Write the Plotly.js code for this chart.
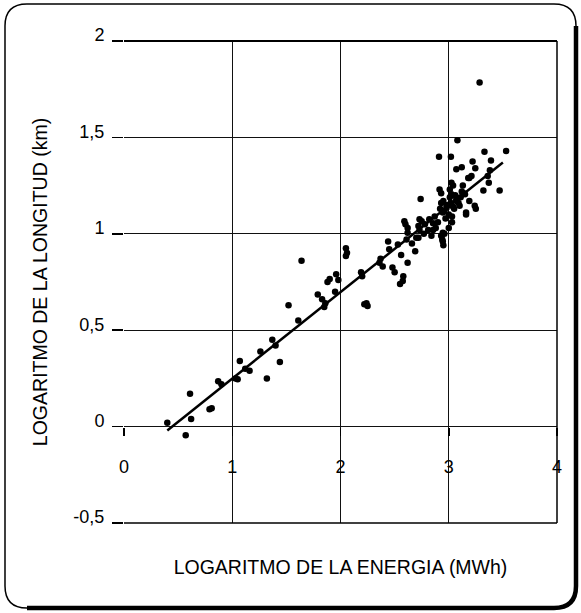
<!DOCTYPE html>
<html>
<head>
<meta charset="utf-8">
<script src="https://cdn.plot.ly/plotly-3.0.1.min.js"></script>
<style>html,body{margin:0;padding:0;background:#fff;}#chart{width:581px;height:613px;}</style>
</head>
<body>
<div id="chart"></div>
<script>
// Scatter data: log energy (MWh) vs log length (km)
const logEnergia = [
0.40,0.57,0.62,0.61,0.79,0.81,0.87,0.90,1.03,1.05,1.07,1.12,1.16,1.32,1.26,1.37,1.40,1.44,1.52,1.61,
1.64,1.79,1.83,1.85,1.86,1.90,1.96,1.98,1.95,1.88,2.05,2.05,2.06,2.19,2.20,2.22,2.25,2.24,2.36,2.39,
2.37,2.44,2.45,2.48,2.50,2.53,2.56,2.58,2.575,2.55,2.61,2.62,2.59,2.60,2.62,2.62,2.69,2.72,2.73,2.75,
2.74,2.73,2.72,2.82,2.855,2.87,2.81,2.84,2.855,2.93,2.945,2.945,2.96,2.94,2.915,2.93,2.945,2.98,3.01,3.025,
3.025,3.07,3.12,3.18,3.21,3.10,3.16,3.07,3.08,2.91,3.02,3.33,3.53,3.39,3.12,3.22,3.245,3.19,3.36,3.37,
3.38,3.32,3.47,3.25,3.16,3.01,3.04,3.13,3.15,2.93,2.95,2.98,3.19,3.07,3.24,3.03,3.285,2.97,3.00,2.99,
3.05,3.02,2.96,3.06,3.09,2.90,2.88,3.00,3.03,2.78,2.77,2.66,2.70,2.95,3.11,3.14,3.04,2.92
];
const logLongitud = [
0.02,-0.045,0.04,0.17,0.09,0.095,0.235,0.22,0.25,0.245,0.34,0.30,0.29,0.25,0.39,0.45,0.42,0.335,0.63,0.55,
0.86,0.685,0.66,0.62,0.64,0.765,0.79,0.76,0.70,0.75,0.925,0.885,0.90,0.80,0.78,0.635,0.625,0.64,0.85,0.83,
0.87,0.96,0.92,0.825,0.80,0.945,0.89,0.78,0.755,0.74,0.97,1.005,1.065,1.05,1.03,0.85,0.91,0.98,1.02,1.065,
1.18,1.075,1.04,1.075,1.055,1.09,1.02,0.99,1.02,0.99,0.96,1.005,1.00,0.97,1.23,1.16,1.11,1.145,1.19,1.265,
1.205,1.17,1.22,1.29,1.30,1.145,1.11,1.335,1.485,1.40,1.40,1.425,1.43,1.38,1.345,1.375,1.34,1.29,1.30,1.265,
1.33,1.225,1.225,1.13,1.10,1.23,1.25,1.25,1.205,1.21,1.17,1.135,1.17,1.18,1.145,1.06,1.785,1.08,1.10,1.15,
1.13,1.16,1.12,1.20,1.16,1.06,1.03,1.03,1.09,1.05,1.00,0.95,0.98,0.94,1.19,1.21,1.14,1.13
];
// Regression line end points
const lineX = [0.40, 3.50];
const lineY = [-0.02, 1.37];
// Axis ticks
const xTicks = [0, 1, 2, 3, 4];
const xTickText = ['0', '1', '2', '3', '4'];
const yTicks = [-0.5, 0, 0.5, 1, 1.5, 2];
const yTickText = ['-0,5', '0', '0,5', '1', '1,5', '2'];

const FONT = 'Liberation Sans, Arial, Helvetica, sans-serif';
const L = 124, R = 557, T = 41, B = 523, WW = 581, HH = 613;
function fx(p){ return ((p - L) / (R - L)).toFixed(5); }
function fy(p){ return ((B - p) / (B - T)).toFixed(5); }
function roundRect(x0, y0, x1, y1, r){
  return 'M' + fx(x0+r) + ',' + fy(y0) +
    ' L' + fx(x1-r) + ',' + fy(y0) + ' Q' + fx(x1) + ',' + fy(y0) + ' ' + fx(x1) + ',' + fy(y0+r) +
    ' L' + fx(x1) + ',' + fy(y1-r) + ' Q' + fx(x1) + ',' + fy(y1) + ' ' + fx(x1-r) + ',' + fy(y1) +
    ' L' + fx(x0+r) + ',' + fy(y1) + ' Q' + fx(x0) + ',' + fy(y1) + ' ' + fx(x0) + ',' + fy(y1-r) +
    ' L' + fx(x0) + ',' + fy(y0+r) + ' Q' + fx(x0) + ',' + fy(y0) + ' ' + fx(x0+r) + ',' + fy(y0) + ' Z';
}
function shadowPath(x0, y0, x1, y1, r){
  return 'M' + fx(x1) + ',' + fy(y0+r) +
    ' L' + fx(x1) + ',' + fy(y1-r) + ' Q' + fx(x1) + ',' + fy(y1) + ' ' + fx(x1-r) + ',' + fy(y1) +
    ' L' + fx(x0+r) + ',' + fy(y1);
}

const traces = [
  { type: 'scatter', mode: 'markers', x: logEnergia, y: logLongitud,
    marker: { color: '#000', size: 6.5 }, hoverinfo: 'x+y', showlegend: false },
  { type: 'scatter', mode: 'lines', x: lineX, y: lineY,
    line: { color: '#000', width: 2.5 }, hoverinfo: 'skip', showlegend: false }
];

const layout = {
  width: WW, height: HH,
  margin: { l: L, r: WW - R, t: T, b: HH - B, pad: 0 },
  paper_bgcolor: '#fff', plot_bgcolor: '#fff',
  font: { family: FONT, color: '#000', size: 18 },
  showlegend: false,
  xaxis: {
    range: [0, 4], tickmode: 'array', tickvals: xTicks, ticktext: xTickText,
    anchor: 'free', position: 0.2,
    showgrid: true, gridcolor: '#111', gridwidth: 1.2,
    zeroline: false, showline: false,
    ticks: 'outside', ticklen: 8, tickcolor: '#000', tickwidth: 1.5,
    ticklabelstandoff: 16,
    tickfont: { family: FONT, size: 18, color: '#000' },
    title: { text: 'LOGARITMO DE LA ENERGIA (MWh)', font: { family: FONT, size: 19.5, color: '#000' }, standoff: 84 },
    fixedrange: true, automargin: false
  },
  yaxis: {
    range: [-0.5, 2], tickmode: 'array', tickvals: yTicks, ticktext: yTickText,
    showgrid: true, gridcolor: '#111', gridwidth: 1.2,
    zeroline: false, showline: false,
    ticks: 'outside', ticklen: 11, tickcolor: '#000', tickwidth: 1.5,
    ticklabelshift: -6, ticklabelstandoff: 4,
    tickfont: { family: FONT, size: 18, color: '#000' },
    title: { text: 'LOGARITMO DE LA LONGITUD (km)', font: { family: FONT, size: 19.5, color: '#000' }, standoff: 20 },
    fixedrange: true, automargin: false
  },
  shapes: [
    { type: 'line', xref: 'paper', yref: 'paper', x0: 0, x1: 1, y0: 1, y1: 1, line: { color: '#000', width: 2.2 } },
    { type: 'line', xref: 'paper', yref: 'paper', x0: 0, x1: 1, y0: 0, y1: 0, line: { color: '#000', width: 1.5 } },
    { type: 'line', xref: 'paper', yref: 'paper', x0: 1, x1: 1, y0: 0, y1: 1, line: { color: '#000', width: 1.5 } },
    { type: 'path', xref: 'paper', yref: 'paper', path: roundRect(5, 4, 576, 608, 22), line: { color: '#000', width: 1.5 } },
    { type: 'path', xref: 'paper', yref: 'paper', path: shadowPath(5, 4, 576, 608, 22), line: { color: '#000', width: 4.5 } }
  ]
};

Plotly.newPlot('chart', traces, layout, { staticPlot: true, displayModeBar: false });
</script>
</body>
</html>
